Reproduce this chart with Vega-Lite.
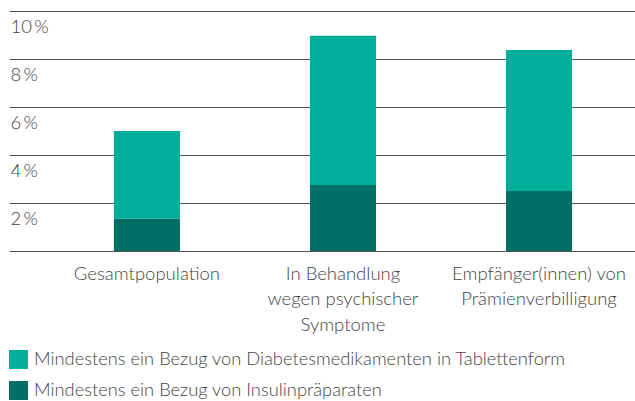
{
  "$schema": "https://vega.github.io/schema/vega-lite/v6.json",
  "width": 626,
  "height": 240,
  "autosize": {"type": "none"},
  "padding": {"left": 9, "top": 11, "right": 0, "bottom": 150},
  "background": "white",
  "data": {
    "values": [
      {"gruppe": "Gesamtpopulation", "art": "Mindestens ein Bezug von Insulinpräparaten", "stapel": 1, "anteil": 1.35},
      {"gruppe": "Gesamtpopulation", "art": "Mindestens ein Bezug von Diabetesmedikamenten in Tablettenform", "stapel": 2, "anteil": 3.65},
      {"gruppe": "In Behandlung|wegen psychischer|Symptome", "art": "Mindestens ein Bezug von Insulinpräparaten", "stapel": 1, "anteil": 2.75},
      {"gruppe": "In Behandlung|wegen psychischer|Symptome", "art": "Mindestens ein Bezug von Diabetesmedikamenten in Tablettenform", "stapel": 2, "anteil": 6.22},
      {"gruppe": "Empfänger(innen) von|Prämienverbilligung", "art": "Mindestens ein Bezug von Insulinpräparaten", "stapel": 1, "anteil": 2.5},
      {"gruppe": "Empfänger(innen) von|Prämienverbilligung", "art": "Mindestens ein Bezug von Diabetesmedikamenten in Tablettenform", "stapel": 2, "anteil": 5.88}
    ]
  },
  "config": {
    "view": {"stroke": null},
    "font": "Lato"
  },
  "mark": {"type": "bar"},
  "encoding": {
    "x": {
      "field": "gruppe",
      "type": "nominal",
      "sort": null,
      "scale": {"paddingInner": 0.663, "paddingOuter": 0.428, "align": 0.625},
      "axis": {
        "title": null,
        "domain": false,
        "ticks": false,
        "labelAngle": 0,
        "labelExpr": "split(datum.label, '|')",
        "labelFont": "Lato",
        "labelFontWeight": 300,
        "labelFontSize": 18.5,
        "labelColor": "#444444",
        "labelLineHeight": 25.5,
        "labelPadding": 13,
        "labelBaseline": "top",
        "labelLimit": 300
      }
    },
    "y": {
      "field": "anteil",
      "type": "quantitative",
      "stack": "zero",
      "scale": {"domain": [0, 10], "nice": false},
      "axis": {
        "title": null,
        "domain": false,
        "ticks": false,
        "tickSize": 0,
        "values": [0, 2, 4, 6, 8, 10],
        "grid": true,
        "gridColor": "#555555",
        "gridWidth": 1.2,
        "gridOpacity": 1,
        "labelAlign": "left",
        "labelBaseline": "top",
        "labelPadding": -1,
        "labelOffset": 6,
        "labelFont": "Lato",
        "labelFontWeight": 300,
        "labelFontSize": 18.5,
        "labelColor": "#444444",
        "labelExpr": "datum.value == 0 ? '' : datum.value + '\u2009%'",
        "zindex": 0
      }
    },
    "color": {
      "field": "art",
      "type": "nominal",
      "scale": {
        "domain": ["Mindestens ein Bezug von Diabetesmedikamenten in Tablettenform", "Mindestens ein Bezug von Insulinpräparaten"],
        "range": ["#00ae9a", "#006f65"]
      },
      "legend": {
        "title": null,
        "orient": "none",
        "legendX": 0,
        "legendY": 339,
        "symbolType": "square",
        "symbolSize": 361,
        "symbolStrokeWidth": 0,
        "symbolOpacity": 1,
        "labelFont": "Lato",
        "labelFontWeight": 300,
        "labelFontSize": 18.3,
        "labelColor": "#444444",
        "labelOffset": 6,
        "labelLimit": 700,
        "rowPadding": 11
      }
    },
    "order": {"field": "stapel", "type": "quantitative"}
  }
}
